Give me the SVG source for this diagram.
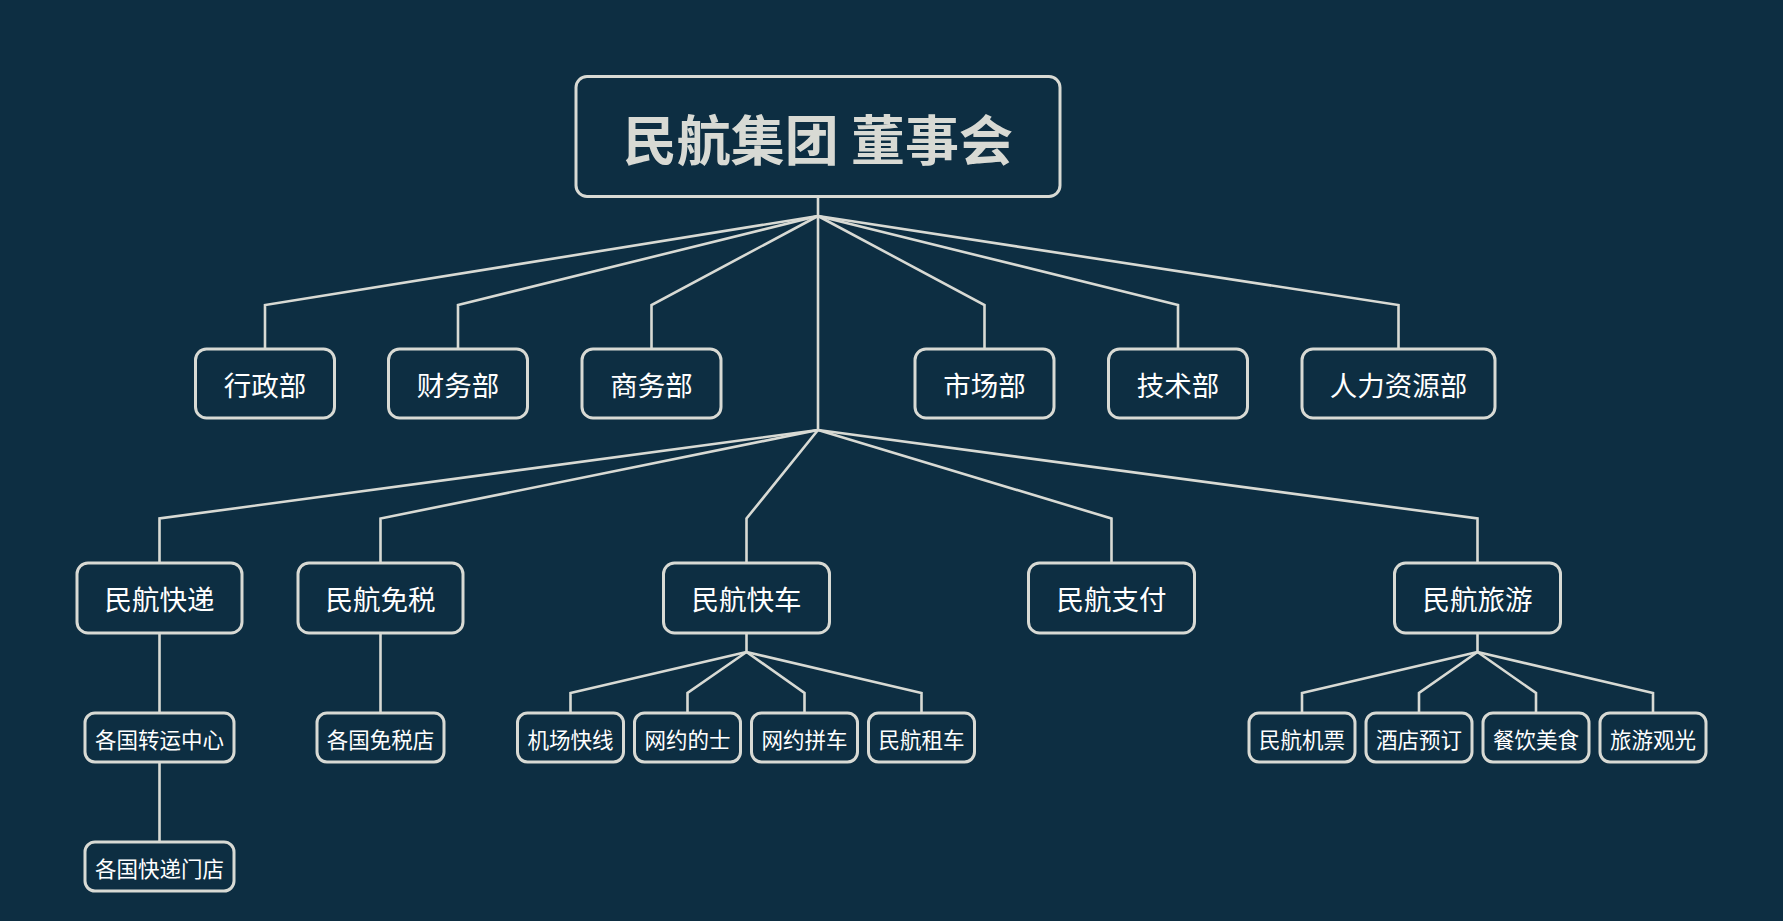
<svg xmlns="http://www.w3.org/2000/svg" width="1783" height="921" viewBox="0 0 1783 921">
<style>
.bg{fill:#0d2e42}
.box{fill:#0d2e42;stroke:#d8dad4;stroke-width:3}
.ln{fill:none;stroke:#d8dad4;stroke-width:2.6;stroke-linejoin:miter}
text{font-family:"Noto Sans CJK SC","Noto Sans",sans-serif;fill:#ffffff;text-anchor:middle;dominant-baseline:central}
.t0{font-size:54px;font-weight:bold;fill:#d8dad4}
.t1{font-size:27.5px}
.t2{font-size:21.5px}
</style>
<rect class="bg" x="0" y="0" width="1783" height="921"/>
<g id="connectors">
<path class="ln" d="M818 197 V430"/>
<path class="ln" d="M818 216 L265 305 V349"/>
<path class="ln" d="M818 216 L458 305 V349"/>
<path class="ln" d="M818 216 L651.5 305 V349"/>
<path class="ln" d="M818 216 L984.5 305 V349"/>
<path class="ln" d="M818 216 L1178 305 V349"/>
<path class="ln" d="M818 216 L1398.5 305 V349"/>
<path class="ln" d="M818 430 L159.5 518.5 V563"/>
<path class="ln" d="M818 430 L380.5 518.5 V563"/>
<path class="ln" d="M818 430 L746.5 518.5 V563"/>
<path class="ln" d="M818 430 L1111.5 518.5 V563"/>
<path class="ln" d="M818 430 L1477.5 518.5 V563"/>
<path class="ln" d="M159.5 633 V713"/>
<path class="ln" d="M159.5 762 V842"/>
<path class="ln" d="M380.5 633 V713"/>
<path class="ln" d="M746.5 633 V652"/>
<path class="ln" d="M746.5 652 L570.5 693 V713"/>
<path class="ln" d="M746.5 652 L687.5 693 V713"/>
<path class="ln" d="M746.5 652 L804.5 693 V713"/>
<path class="ln" d="M746.5 652 L921.5 693 V713"/>
<path class="ln" d="M1477.5 633 V652"/>
<path class="ln" d="M1477.5 652 L1302 693 V713"/>
<path class="ln" d="M1477.5 652 L1419 693 V713"/>
<path class="ln" d="M1477.5 652 L1536 693 V713"/>
<path class="ln" d="M1477.5 652 L1653 693 V713"/>
</g>
<g id="root"><rect class="box" x="576" y="76.5" width="484" height="120" rx="11"/><text class="t0" x="818" y="137">民航集团 董事会</text></g>
<g id="xingzheng"><rect class="box" x="195.5" y="349" width="139" height="69" rx="11"/><text class="t1" x="265" y="384">行政部</text></g>
<g id="caiwu"><rect class="box" x="388.5" y="349" width="139" height="69" rx="11"/><text class="t1" x="458" y="384">财务部</text></g>
<g id="shangwu"><rect class="box" x="582" y="349" width="139" height="69" rx="11"/><text class="t1" x="651.5" y="384">商务部</text></g>
<g id="shichang"><rect class="box" x="915" y="349" width="139" height="69" rx="11"/><text class="t1" x="984.5" y="384">市场部</text></g>
<g id="jishu"><rect class="box" x="1108.5" y="349" width="139" height="69" rx="11"/><text class="t1" x="1178" y="384">技术部</text></g>
<g id="renli"><rect class="box" x="1302" y="349" width="193" height="69" rx="11"/><text class="t1" x="1398.5" y="384">人力资源部</text></g>
<g id="kuaidi"><rect class="box" x="77" y="563" width="165" height="70" rx="11"/><text class="t1" x="159.5" y="598">民航快递</text></g>
<g id="mianshui"><rect class="box" x="298" y="563" width="165" height="70" rx="11"/><text class="t1" x="380.5" y="598">民航免税</text></g>
<g id="kuaiche"><rect class="box" x="663.5" y="563" width="166" height="70" rx="11"/><text class="t1" x="746.5" y="598">民航快车</text></g>
<g id="zhifu"><rect class="box" x="1028.5" y="563" width="166" height="70" rx="11"/><text class="t1" x="1111.5" y="598">民航支付</text></g>
<g id="lvyou"><rect class="box" x="1394.5" y="563" width="166" height="70" rx="11"/><text class="t1" x="1477.5" y="598">民航旅游</text></g>
<g id="zhuanyun"><rect class="box" x="85" y="713" width="149" height="49" rx="10"/><text class="t2" x="159.5" y="738">各国转运中心</text></g>
<g id="mendian"><rect class="box" x="85" y="842" width="149" height="49" rx="10"/><text class="t2" x="159.5" y="867">各国快递门店</text></g>
<g id="mianshuidian"><rect class="box" x="317" y="713" width="127" height="49" rx="10"/><text class="t2" x="380.5" y="738">各国免税店</text></g>
<g id="jichang"><rect class="box" x="517.5" y="713" width="106" height="49" rx="10"/><text class="t2" x="570.5" y="738">机场快线</text></g>
<g id="dishi"><rect class="box" x="634.5" y="713" width="106" height="49" rx="10"/><text class="t2" x="687.5" y="738">网约的士</text></g>
<g id="pinche"><rect class="box" x="751.5" y="713" width="106" height="49" rx="10"/><text class="t2" x="804.5" y="738">网约拼车</text></g>
<g id="zuche"><rect class="box" x="868.5" y="713" width="106" height="49" rx="10"/><text class="t2" x="921.5" y="738">民航租车</text></g>
<g id="jipiao"><rect class="box" x="1249" y="713" width="106" height="49" rx="10"/><text class="t2" x="1302" y="738">民航机票</text></g>
<g id="jiudian"><rect class="box" x="1366" y="713" width="106" height="49" rx="10"/><text class="t2" x="1419" y="738">酒店预订</text></g>
<g id="canyin"><rect class="box" x="1483" y="713" width="106" height="49" rx="10"/><text class="t2" x="1536" y="738">餐饮美食</text></g>
<g id="guanguang"><rect class="box" x="1600" y="713" width="106" height="49" rx="10"/><text class="t2" x="1653" y="738">旅游观光</text></g>
</svg>
